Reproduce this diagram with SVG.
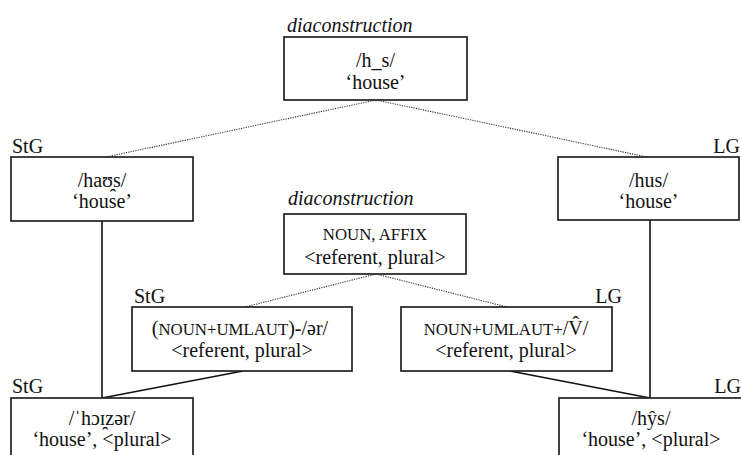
<svg xmlns="http://www.w3.org/2000/svg" width="741" height="455" viewBox="0 0 741 455">
<style>
text{font-family:'Liberation Serif','Times New Roman','DejaVu Serif',serif;font-size:20px;fill:#111}
.c{text-anchor:middle}
.e{text-anchor:end}
.i{font-style:italic}
.sc{font-size:16.8px}
rect{fill:#fff;stroke:#222;stroke-width:1.7}
.dot{stroke:#333;stroke-width:1.1;stroke-dasharray:1.2 1.2;fill:none}
.sol{stroke:#111;stroke-width:1.6;fill:none}
</style>
<rect x="0" y="0" width="741" height="455" style="fill:#fff;stroke:none"/>
<g id="connectors">
<line class="dot" x1="376" y1="100" x2="106" y2="157"/>
<line class="dot" x1="376" y1="100" x2="647" y2="157"/>
<line class="dot" x1="376" y1="274" x2="245" y2="307"/>
<line class="dot" x1="376" y1="274" x2="507" y2="307"/>
<line class="sol" x1="102" y1="221" x2="102" y2="398"/>
<line class="sol" x1="650" y1="220" x2="650" y2="398"/>
<line class="sol" x1="243" y1="371" x2="102" y2="398"/>
<line class="sol" x1="510" y1="371" x2="650" y2="398"/>
</g>
<g id="top">
<text class="i" x="287" y="32">diaconstruction</text>
<rect x="284" y="37" width="183" height="63"/>
<text class="c" x="375.5" y="67">/h_s/</text>
<text class="c" x="375.5" y="89">‘house’</text>
</g>
<g id="stg-house">
<text x="12" y="153">StG</text>
<rect x="11" y="157" width="182" height="64"/>
<text class="c" x="102" y="187">/haʊ̯s/</text>
<text class="c" x="102" y="208">‘house’</text>
</g>
<g id="lg-house">
<text class="e" x="740" y="153">LG</text>
<rect x="558" y="157" width="181" height="63"/>
<text class="c" x="648.5" y="187">/hus/</text>
<text class="c" x="648.5" y="208">‘house’</text>
</g>
<g id="mid">
<text class="i" x="288" y="205">diaconstruction</text>
<rect x="284" y="214" width="182" height="60"/>
<text class="c sc" x="375" y="240">NOUN, AFFIX</text>
<text class="c" x="375" y="264">&lt;referent, plural&gt;</text>
</g>
<g id="stg-plural">
<text x="134" y="303">StG</text>
<rect x="132" y="307" width="220" height="64"/>
<text class="c" x="240" y="335">(<tspan class="sc">NOUN+UMLAUT</tspan>)-/ər/</text>
<text class="c" x="242" y="357">&lt;referent, plural&gt;</text>
</g>
<g id="lg-plural">
<text class="e" x="622" y="303">LG</text>
<rect x="401" y="307" width="211" height="64"/>
<text class="c" x="506" y="335"><tspan class="sc">NOUN+UMLAUT+</tspan>/V̂/</text>
<text class="c" x="506" y="357">&lt;referent, plural&gt;</text>
</g>
<g id="stg-houses">
<text x="12" y="393">StG</text>
<rect x="11" y="398" width="182" height="80"/>
<text class="c" x="102" y="425">/ˈhɔɪ̯zər/</text>
<text class="c" x="102" y="446">‘house’, &lt;plural&gt;</text>
</g>
<g id="lg-houses">
<text class="e" x="741" y="393">LG</text>
<rect x="559" y="398" width="186" height="80"/>
<text class="c" x="651" y="425">/hŷs/</text>
<text class="c" x="651" y="446">‘house’, &lt;plural&gt;</text>
</g>
</svg>
